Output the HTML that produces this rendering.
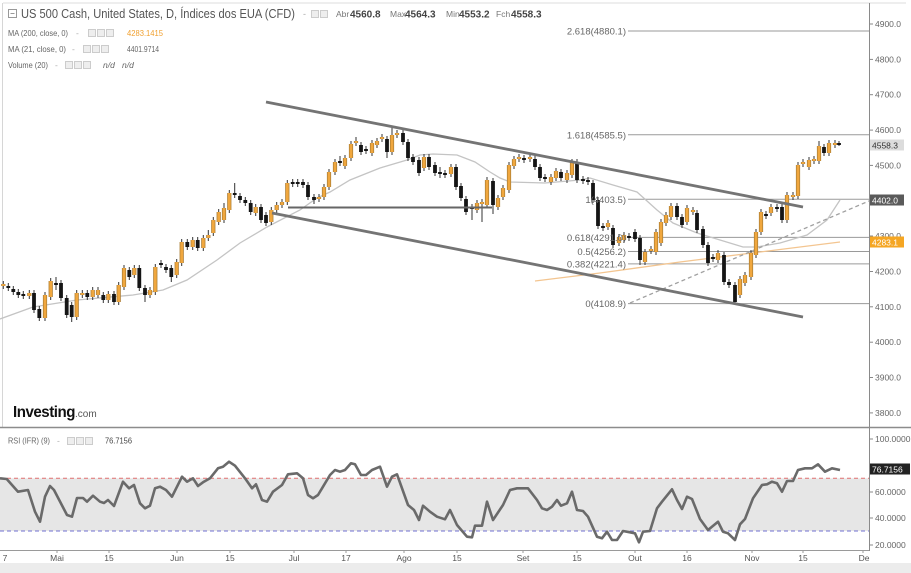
<!DOCTYPE html>
<html><head><meta charset="utf-8"><style>
html,body{margin:0;padding:0;background:#fff;}
svg{display:block;font-family:"Liberation Sans",sans-serif;}
</style></head><body>
<svg width="911" height="573" viewBox="0 0 911 573" xmlns="http://www.w3.org/2000/svg">
<rect x="0" y="0" width="911" height="573" fill="#fff"/>
<!-- frame -->
<line x1="3" y1="3" x2="906" y2="3" stroke="#dcdcdc" stroke-width="1"/>
<line x1="2.5" y1="3" x2="2.5" y2="427" stroke="#d6d6d6" stroke-width="1"/>
<line x1="869.5" y1="3" x2="869.5" y2="551" stroke="#8a8a8a" stroke-width="1"/>
<line x1="0" y1="427.5" x2="911" y2="427.5" stroke="#8c8c8c" stroke-width="1.5"/>
<line x1="0" y1="550.5" x2="869" y2="550.5" stroke="#9a9a9a" stroke-width="1"/>
<rect x="0" y="563" width="911" height="10" fill="#ececec"/>

<!-- price axis ticks/labels -->
<g stroke="#888" stroke-width="1">
<line x1="869" y1="24" x2="873" y2="24"/><line x1="869" y1="59.4" x2="873" y2="59.4"/>
<line x1="869" y1="94.7" x2="873" y2="94.7"/><line x1="869" y1="130.1" x2="873" y2="130.1"/>
<line x1="869" y1="165.4" x2="873" y2="165.4"/><line x1="869" y1="236" x2="873" y2="236"/>
<line x1="869" y1="271.5" x2="873" y2="271.5"/><line x1="869" y1="306.8" x2="873" y2="306.8"/>
<line x1="869" y1="342.2" x2="873" y2="342.2"/><line x1="869" y1="377.5" x2="873" y2="377.5"/>
<line x1="869" y1="412.9" x2="873" y2="412.9"/>
<line x1="869" y1="439" x2="873" y2="439"/><line x1="869" y1="492" x2="873" y2="492"/>
<line x1="869" y1="518" x2="873" y2="518"/><line x1="869" y1="545" x2="873" y2="545"/>
</g>
<g font-size="8.5" fill="#666">
<text x="875" y="27">4900.0</text><text x="875" y="62.4">4800.0</text>
<text x="875" y="97.7">4700.0</text><text x="875" y="133.1">4600.0</text>
<text x="875" y="168.4">4500.0</text><text x="875" y="239">4300.0</text>
<text x="875" y="274.5">4200.0</text><text x="875" y="309.8">4100.0</text>
<text x="875" y="345.2">4000.0</text><text x="875" y="380.5">3900.0</text>
<text x="875" y="415.9">3800.0</text>
<text x="875" y="442">100.0000</text><text x="875" y="495">60.0000</text>
<text x="875" y="521">40.0000</text><text x="875" y="548">20.0000</text>
</g>

<!-- legend -->
<rect x="8.5" y="9.5" width="8" height="8" fill="none" stroke="#999" stroke-width="1"/>
<line x1="10.5" y1="13.5" x2="14.5" y2="13.5" stroke="#999"/>
<text x="21" y="18" font-size="12.5" fill="#555" textLength="274" lengthAdjust="spacingAndGlyphs">US 500 Cash, United States, D, Índices dos EUA (CFD)</text>
<text x="303" y="17" font-size="9" fill="#aaa">-</text>
<rect x="311.5" y="10.5" width="7" height="7" fill="#eee" stroke="#ccc"/>
<rect x="320.5" y="10.5" width="7" height="7" fill="#eee" stroke="#ccc"/>
<text x="336" y="17" font-size="8.5" fill="#777">Abr</text>
<text x="350" y="17.5" font-size="10" font-weight="bold" fill="#444">4560.8</text>
<text x="390" y="17" font-size="8.5" fill="#777">Max</text>
<text x="405" y="17.5" font-size="10" font-weight="bold" fill="#444">4564.3</text>
<text x="446" y="17" font-size="8.5" fill="#777">Min</text>
<text x="459" y="17.5" font-size="10" font-weight="bold" fill="#444">4553.2</text>
<text x="496" y="17" font-size="8.5" fill="#777">Fch</text>
<text x="511" y="17.5" font-size="10" font-weight="bold" fill="#444">4558.3</text>

<g font-size="8.5" fill="#666">
<text x="8" y="36" textLength="60" lengthAdjust="spacingAndGlyphs">MA (200, close, 0)</text>
<text x="76" y="36" fill="#aaa">-</text>
<text x="127" y="36" fill="#f0a030" textLength="36" lengthAdjust="spacingAndGlyphs">4283.1415</text>
<text x="8" y="52" textLength="58" lengthAdjust="spacingAndGlyphs">MA (21, close, 0)</text>
<text x="72" y="52" fill="#aaa">-</text>
<text x="127" y="52" textLength="32" lengthAdjust="spacingAndGlyphs">4401.9714</text>
<text x="8" y="68" textLength="40" lengthAdjust="spacingAndGlyphs">Volume (20)</text>
<text x="55" y="68" fill="#aaa">-</text>
<text x="103" y="68" font-style="italic">n/d</text>
<text x="122" y="68" font-style="italic">n/d</text>
<text x="8" y="443.5" textLength="42" lengthAdjust="spacingAndGlyphs">RSI (IFR) (9)</text>
<text x="57" y="443.5" fill="#aaa">-</text>
<text x="105" y="443.5" fill="#444" textLength="27" lengthAdjust="spacingAndGlyphs">76.7156</text>
</g>
<g fill="#eee" stroke="#ccc" stroke-width="1">
<rect x="88.5" y="29.5" width="7" height="7"/><rect x="97.5" y="29.5" width="7" height="7"/><rect x="106.5" y="29.5" width="7" height="7"/>
<rect x="83.5" y="45.5" width="7" height="7"/><rect x="92.5" y="45.5" width="7" height="7"/><rect x="101.5" y="45.5" width="7" height="7"/>
<rect x="65.5" y="61.5" width="7" height="7"/><rect x="74.5" y="61.5" width="7" height="7"/><rect x="83.5" y="61.5" width="7" height="7"/>
<rect x="67.5" y="437.5" width="7" height="7"/><rect x="76.5" y="437.5" width="7" height="7"/><rect x="85.5" y="437.5" width="7" height="7"/>
</g>

<!-- Investing logo -->
<text x="13" y="417" font-size="16" font-weight="bold" fill="#111" textLength="62" lengthAdjust="spacingAndGlyphs" letter-spacing="-0.5">Investing</text>
<text x="75" y="417" font-size="10" fill="#555">.com</text>

<!-- fib lines -->
<g stroke="#9a9a9a" stroke-width="1">
<line x1="628" y1="31" x2="869" y2="31"/>
<line x1="628" y1="134.8" x2="869" y2="134.8"/>
<line x1="628" y1="199.3" x2="869" y2="199.3"/>
<line x1="628" y1="237.4" x2="869" y2="237.4"/>
<line x1="628" y1="251.5" x2="869" y2="251.5"/>
<line x1="628" y1="263.9" x2="869" y2="263.9"/>
<line x1="628" y1="303.6" x2="869" y2="303.6"/>
</g>

<!-- MA21 gray -->
<polyline fill="none" stroke="#c4c4c4" stroke-width="1.3" points="0,319 33,307 77,300 133,295 163,290 187,280 217,260 240,243 267,227 300,210 317,198 330,192 350,180 380,168 407,160 420,155 433,154 457,155 475,162 490,172 500,178 510,182 545,183 580,180 590,178 613,185 637,192 657,210 673,223 697,233 720,240 743,247 757,247 780,243 807,235 827,220 840,200"/>
<!-- MA200 orange -->
<polyline fill="none" stroke="#f3c590" stroke-width="1.3" points="535,281 600,273 680,262 760,252 840,242"/>
<!-- dashed trend -->
<line x1="630" y1="303" x2="869" y2="201" stroke="#a0a0a0" stroke-width="1.3" stroke-dasharray="4,3"/>

<!-- wicks -->
<path fill="none" stroke="#333" stroke-width="1" d="M3.3 281V289M8.3 283V291M13.3 286V295M18.3 289V298M23.3 291V299M29.3 290V299M34 290V313M39.3 306V321M45 292V321M50.7 278V300M56 277V290M61 280V301M66.7 295V318M71.7 302V322M76.7 290V320M82.3 290V298M87.3 290V300M92.7 287V300M98 287V298M103.3 292V303M108.3 291V303M114 291V305M118.7 282V305M124 265V290M129.3 267V280M134.3 265V278M139.3 265V291M145 285V302M150 287V298M155.3 264V295M161 260V268M166 264V273M171.3 265V282M176.7 259V278M181.7 239V266M187.3 239V250M192.7 237V250M197.7 237V251M203.3 235V251M208.3 230V241M213.3 217V236M218.7 209V225M224 203V223M229.3 190V213M234.7 183V198M240 193V203M245.3 197V206M250.7 200V215M255.7 204V216M261 204V223M266 212V226M271.3 207V225M276.7 202V213M282 199V208M287.3 180V205M292.7 179V187M297.7 179V187M303 179V188M308 182V200M314 194V204M319 194V202M324 184V200M329 169V190M335 159V175M340 156V166M345 155V169M351 141V161M356 137V146M361 142V155M366 146V154M372 140V156M377 138V148M382 134V142M387 136V158M392 127V155M397 130V138M403 128V145M408 139V161M413 154V165M419 157V176M424 154V171M429 154V170M435 162V176M440 167V178M445 170V178M451 164V177M456 164V190M461 183V201M466 196V215M472 204V220M477 200V213M482 199V222M487 177V208M493 178V214M498 195V210M503 185V200M509 162V193M514 156V169M519 154V162M524 155V163M530 154V162M535 156V170M540 164V181M545 174V182M551 174V185M556 168V181M561 169V181M567 170V183M572 159V178M577 159V183M583 176V184M588 177V185M593 180V203M598 197V229M603 223V231M608 220V230M613 225V248M619 234V246M624 232V243M629 233V241M635 229V242M640 235V265M645 249V265M651 246V254M656 229V255M661 219V246M666 212V226M671 203V220M677 203V220M682 214V228M687 205V225M693 207V215M697 210V233M703 226V248M708 242V266M713 254V262M718 250V263M724 252V285M729 279V288M735 282V305M740 276V298M745 272V286M751 250V280M756 229V258M761 209V235M766 211V219M771 204V216M777 204V212M782 204V223M787 192V223M793 192V200M798 162V199M803 159V167M809 157V170M814 156V164M819 141V164M824 144V156M829 140V156M835 140V148M839 141V146"/>

<!-- black bodies -->
<path fill="none" stroke="#151515" stroke-width="3.8" d="M8.3 286V288M13.3 289V292M18.3 292V295M23.3 294V296M34 293V310M39.3 309V318M56 283V285M61 283V298M66.7 298V315M71.7 305V317M87.3 293V297M103.3 295V300M114 294V302M129.3 270V277M139.3 268V288M145 288V295M161 263V265M166 267V270M171.3 268V277M187.3 242V247M197.7 240V248M234.7 193V195M240 196V200M245.3 200V203M250.7 203V212M261 207V220M266 215V223M292.7 182V184M297.7 182V184M303 182V185M308 185V197M314 197V200M340 161V163M361 145V152M366 149V151M387 139V152M403 133V142M408 142V158M413 157V162M419 160V173M429 157V167M435 165V173M440 172V174M445 173V175M456 167V187M461 186V198M466 199V212M472 207V209M493 181V205M524 158V160M535 159V167M540 167V178M545 177V179M561 172V178M577 162V180M583 179V181M588 180V182M593 183V200M598 200V226M603 226V228M613 228V245M629 236V238M635 232V239M640 238V260M677 206V217M682 217V225M697 213V230M703 229V245M708 245V263M713 257V259M724 255V282M729 282V285M735 285V302M766 214V216M777 207V209M782 207V220M824 147V153M839 143V145"/>

<!-- orange bodies -->
<path id="ob" fill="none" stroke="#a87a32" stroke-width="4.2" d="M3.3 284V286M29.3 293V296M45 295V318M50.7 281V297M76.7 293V317M82.3 293V295M92.7 290V297M98 290V295M108.3 294V300M118.7 285V302M124 268V287M134.3 268V275M150 290V295M155.3 267V292M176.7 262V275M181.7 242V263M192.7 240V247M203.3 238V248M208.3 235V238M213.3 220V233M218.7 212V222M224 208V220M229.3 193V210M255.7 207V213M271.3 210V222M276.7 205V210M282 202V205M287.3 183V202M319 197V199M324 187V197M329 172V187M335 162V172M345 158V166M351 144V158M356 141V143M372 143V153M377 141V145M382 137V139M392 135V152M397 133V135M424 157V168M451 167V174M477 203V210M482 202V204M487 180V205M498 198V207M503 188V197M509 165V190M514 159V166M519 157V159M530 157V159M551 177V182M556 171V178M567 173V180M572 162V175M608 223V227M619 237V243M624 235V240M645 252V262M651 249V251M656 232V252M661 222V243M666 215V223M671 206V217M687 208V222M693 210V212M718 253V260M740 279V295M745 275V283M751 253V277M756 232V255M761 212V232M771 207V213M787 195V220M793 195V197M798 165V196M803 162V164M809 160V167M814 159V161M819 146V161M829 143V153M835 143V145"/>
<path fill="none" stroke="#f0a73e" stroke-width="2.8" d="M3.3 284V286M29.3 293V296M45 295V318M50.7 281V297M76.7 293V317M82.3 293V295M92.7 290V297M98 290V295M108.3 294V300M118.7 285V302M124 268V287M134.3 268V275M150 290V295M155.3 267V292M176.7 262V275M181.7 242V263M192.7 240V247M203.3 238V248M208.3 235V238M213.3 220V233M218.7 212V222M224 208V220M229.3 193V210M255.7 207V213M271.3 210V222M276.7 205V210M282 202V205M287.3 183V202M319 197V199M324 187V197M329 172V187M335 162V172M345 158V166M351 144V158M356 141V143M372 143V153M377 141V145M382 137V139M392 135V152M397 133V135M424 157V168M451 167V174M477 203V210M482 202V204M487 180V205M498 198V207M503 188V197M509 165V190M514 159V166M519 157V159M530 157V159M551 177V182M556 171V178M567 173V180M572 162V175M608 223V227M619 237V243M624 235V240M645 252V262M651 249V251M656 232V252M661 222V243M666 215V223M671 206V217M687 208V222M693 210V212M718 253V260M740 279V295M745 275V283M751 253V277M756 232V255M761 212V232M771 207V213M787 195V220M793 195V197M798 165V196M803 162V164M809 160V167M814 159V161M819 146V161M829 143V153M835 143V145"/>

<!-- channel lines -->
<line x1="266" y1="102" x2="803" y2="207" stroke="#747474" stroke-width="2.8"/>
<line x1="272" y1="213" x2="803" y2="317" stroke="#747474" stroke-width="2.8"/>
<line x1="288" y1="207.5" x2="492" y2="207.5" stroke="#666" stroke-width="2"/>

<!-- fib labels -->
<g font-size="9.5" fill="#666" text-anchor="end">
<text x="626" y="34.5">2.618(4880.1)</text>
<text x="626" y="138.3">1.618(4585.5)</text>
<text x="626" y="202.8">1(4403.5)</text>
<text x="626" y="240.9">0.618(4291.0)</text>
<text x="626" y="255">0.5(4256.2)</text>
<text x="626" y="267.4">0.382(4221.4)</text>
<text x="626" y="307.1">0(4108.9)</text>
</g>

<!-- price boxes -->
<rect x="870" y="139.5" width="34" height="11" fill="#dcdcdc"/>
<text x="872" y="148.3" font-size="8.5" fill="#333">4558.3</text>
<rect x="870" y="194.5" width="34" height="11" fill="#5a5a5a"/>
<text x="872" y="203.3" font-size="8.5" fill="#fff">4402.0</text>
<rect x="870" y="236.5" width="34" height="11" fill="#f5a623"/>
<text x="872" y="245.3" font-size="8.5" fill="#fff">4283.1</text>

<!-- RSI panel -->
<rect x="0" y="478.3" width="869" height="52.7" fill="#e6e6e6"/>
<line x1="0" y1="478.3" x2="869" y2="478.3" stroke="#e07070" stroke-width="1" stroke-dasharray="4,3"/>
<line x1="0" y1="531" x2="869" y2="531" stroke="#7070d0" stroke-width="1" stroke-dasharray="4,3"/>
<polyline fill="none" stroke="#6a6a6a" stroke-width="2.6" stroke-linejoin="round" points="0,478.3 6.7,479 18,491.7 28,490 35,511.7 40,521.7 45,496.7 50,486 54,490 67,515 72,516.7 77,498 83,498 87,501.7 93,495.7 100,501.7 104,503 108,500 114,506 123,481.7 129,488.3 134,485 140,503.3 145,508.3 150,505.7 155,488.3 160,486.7 166,490 172,496.7 182,476.7 187,481.7 193,478.3 198,486 203,482.3 210,478.3 218,468.3 223,466.7 229,461.7 235,465.7 245,478.3 252,488.3 256,484.3 262,500 267,501.7 273,491.7 282,485 288,474.3 297,473.3 303,478.3 308,495 313,498.3 318,495 323,486.7 330,475 335,470 340,471.7 345,470 351,463.3 355,464.3 361,475 366,475 372,470 380,466.7 387,486.7 392,476.7 397,474.3 408,505 414,510 419,520 423,505.7 430,511.7 437,516.7 445,519.3 450,510 457,525 467,536.7 472,537.3 475,525.7 482,525.7 487,501.7 493,520 503,505 510,490 517,488.3 528,488.3 537,500 542,508.3 547,510 552,506.7 557,500 561,505.7 567,503.3 572,491.7 577,510 583,511 588,516.7 597,536.7 602,538.3 607,531.7 612,540 617,540 623,531 630,532.3 635,533.3 639,542.3 643,531.7 650,531 657,508.3 662,501.7 672,489.3 677,500 682,509 687,496.7 692,499 700,519 708,530 718,521.7 723,531.7 728,533.3 735,540 740,524.3 745,519 753,498.3 762,485 767,484.3 772,481.7 777,483.3 782,491.7 787,481 793,481 798,470 805,468.3 812,468.3 818,464.3 825,471.7 832,468.3 840,470"/>
<rect x="870" y="463.5" width="40" height="11" fill="#222"/>
<text x="872" y="472.3" font-size="8.5" fill="#fff">76.7156</text>

<!-- date axis -->
<g stroke="#999" stroke-width="1">
<line x1="57" y1="550" x2="57" y2="553"/><line x1="109" y1="550" x2="109" y2="553"/>
<line x1="177" y1="550" x2="177" y2="553"/><line x1="230" y1="550" x2="230" y2="553"/>
<line x1="294" y1="550" x2="294" y2="553"/><line x1="346" y1="550" x2="346" y2="553"/>
<line x1="404" y1="550" x2="404" y2="553"/><line x1="457" y1="550" x2="457" y2="553"/>
<line x1="523" y1="550" x2="523" y2="553"/><line x1="577" y1="550" x2="577" y2="553"/>
<line x1="635" y1="550" x2="635" y2="553"/><line x1="687" y1="550" x2="687" y2="553"/>
<line x1="752" y1="550" x2="752" y2="553"/><line x1="803" y1="550" x2="803" y2="553"/>
<line x1="863" y1="550" x2="863" y2="553"/>
</g>
<g font-size="8.5" fill="#555" text-anchor="middle">
<text x="5" y="561">7</text><text x="57" y="561">Mai</text><text x="109" y="561">15</text>
<text x="177" y="561">Jun</text><text x="230" y="561">15</text><text x="294" y="561">Jul</text>
<text x="346" y="561">17</text><text x="404" y="561">Ago</text><text x="457" y="561">15</text>
<text x="523" y="561">Set</text><text x="577" y="561">15</text><text x="635" y="561">Out</text>
<text x="687" y="561">16</text><text x="752" y="561">Nov</text><text x="803" y="561">15</text>
<text x="864" y="561">De</text>
</g>
</svg>
</body></html>
